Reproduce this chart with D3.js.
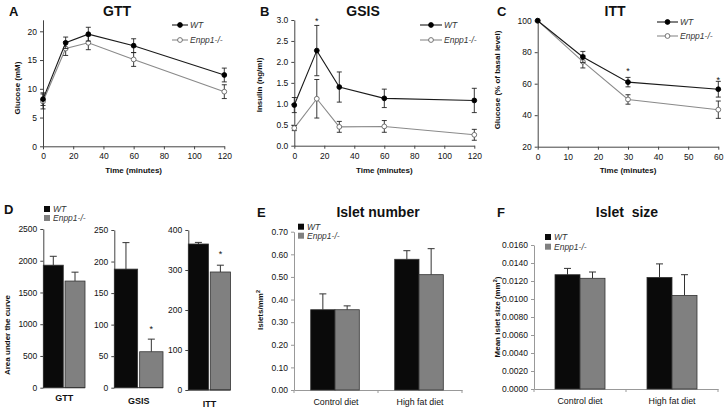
<!DOCTYPE html>
<html><head><meta charset="utf-8">
<script src="https://cdn.jsdelivr.net/npm/d3@7"></script>
<style>
body{margin:0;background:#fff;}
svg{font-family:"Liberation Sans",Arial,sans-serif;}
text{white-space:pre;}
</style></head>
<body>
<svg id="c" width="728" height="410"></svg>
<script>
// ---------- data ----------
const seriesNames = ["WT", "Enpp1-/-"];
const gttTimes = [0, 15, 30, 60, 120];
const gttWT = [8.2, 18.0, 19.5, 17.5, 12.4];
const gttWTErr = [1.1, 1.0, 1.2, 1.2, 1.2];
const gttKO = [7.8, 17.0, 18.0, 15.1, 9.5];
const gttKOErr = [1.3, 1.2, 1.2, 1.2, 1.2];

const gsisTimes = [0, 15, 30, 60, 120];
const gsisWT = [0.97, 2.27, 1.40, 1.13, 1.08];
const gsisWTErr = [0.18, 0.60, 0.36, 0.22, 0.29];
const gsisKO = [0.42, 1.12, 0.45, 0.46, 0.26];
const gsisKOErr = [0.06, 0.46, 0.13, 0.14, 0.13];

const ittTimes = [0, 15, 30, 60];
const ittWT = [100, 77, 61, 56.5];
const ittWTErr = [0, 3.5, 3, 5];
const ittKO = [100, 74, 50, 43.5];
const ittKOErr = [0, 4, 3, 5.5];

const aucTests = ["GTT", "GSIS", "ITT"];
const aucWT = [1930, 188, 365];
const aucWTErr = [140, 42, 4];
const aucKO = [1680, 57, 295];
const aucKOErr = [140, 20, 17];

const diets = ["Control diet", "High fat diet"];
const isletNumWT = [0.355, 0.578];
const isletNumWTErr = [0.07, 0.038];
const isletNumKO = [0.355, 0.51];
const isletNumKOErr = [0.017, 0.115];

const isletSizeWT = [0.0127, 0.0124];
const isletSizeWTErr = [0.0007, 0.0015];
const isletSizeKO = [0.0123, 0.0104];
const isletSizeKOErr = [0.0007, 0.0023];

// ---------- style ----------
const svg = d3.select("#c");
const WTline = "#1a1a1a", KOline = "#8a8a8a";
const WTbar = "#0a0a0a", KObar = "#808080";
const axisCol = "#444";

function styleAxis(g, col) {
  g.selectAll("path,line").attr("stroke", col || axisCol);
  g.selectAll("text").attr("fill", "#111").style("font-size", "8.5px")
    .style("font-family", "'Liberation Sans',Arial,sans-serif");
}
function text(x, y, s, o) {
  o = o || {};
  const t = svg.append("text").attr("x", x).attr("y", y).text(s)
    .attr("text-anchor", o.anchor || "middle")
    .style("font-size", (o.size || 9) + "px")
    .style("font-weight", o.bold ? "bold" : "normal")
    .style("font-style", o.italic ? "italic" : "normal")
    .attr("fill", o.fill || "#111");
  if (o.rotate) t.attr("transform", `rotate(-90,${x},${y})`);
  return t;
}

// ---------- line panels ----------
function linePanel(cfg) {
  const x = d3.scaleLinear().domain(cfg.xDomain).range(cfg.xRange);
  const y = d3.scaleLinear().domain(cfg.yDomain).range(cfg.yRange);
  const gx = svg.append("g").attr("transform", `translate(0,${cfg.yRange[0]})`)
    .call(d3.axisBottom(x).tickValues(cfg.xTicks).tickSize(3).tickPadding(4).tickSizeOuter(0));
  styleAxis(gx);
  const gy = svg.append("g").attr("transform", `translate(${cfg.xRange[0]},0)`)
    .call(d3.axisLeft(y).tickValues(cfg.yTicks).tickFormat(cfg.yFmt || d3.format("d")).tickSize(3).tickPadding(3).tickSizeOuter(0));
  styleAxis(gy);

  const series = [
    {v: cfg.ko, e: cfg.koErr, col: KOline, fill: "#fff"},
    {v: cfg.wt, e: cfg.wtErr, col: WTline, fill: "#000"}
  ];
  series.forEach(s => {
    const pts = cfg.times.map((t, i) => ({t, v: s.v[i], e: s.e[i]}));
    svg.append("path").datum(pts)
      .attr("d", d3.line().x(d => x(d.t)).y(d => y(d.v)))
      .attr("fill", "none").attr("stroke", s.col).attr("stroke-width", 1.1);
    const eb = svg.append("g");
    pts.filter(d => d.e > 0).forEach(d => {
      eb.append("line").attr("x1", x(d.t)).attr("x2", x(d.t))
        .attr("y1", y(d.v - d.e)).attr("y2", y(d.v + d.e)).attr("stroke", "#222").attr("stroke-width", 0.9);
      [d.v - d.e, d.v + d.e].forEach(vv => eb.append("line")
        .attr("x1", x(d.t) - 2.5).attr("x2", x(d.t) + 2.5)
        .attr("y1", y(vv)).attr("y2", y(vv)).attr("stroke", "#222").attr("stroke-width", 0.9));
    });
    svg.append("g").selectAll("circle").data(pts).join("circle")
      .attr("cx", d => x(d.t)).attr("cy", d => y(d.v)).attr("r", 2.4)
      .attr("fill", s.fill).attr("stroke", s.col === KOline ? "#666" : "#000").attr("stroke-width", 0.9);
  });
  (cfg.stars || []).forEach(st => text(x(st.t), st.y, "*", {size: 9}));

  // legend
  const L = cfg.legend;
  [[seriesNames[0], WTline, "#000", L.y1], [seriesNames[1], KOline, "#fff", L.y2]].forEach(([n, c, f, yy]) => {
    svg.append("line").attr("x1", L.x1).attr("x2", L.x2).attr("y1", yy).attr("y2", yy).attr("stroke", c).attr("stroke-width", 1.1);
    svg.append("circle").attr("cx", (L.x1 + L.x2) / 2).attr("cy", yy).attr("r", 2.4)
      .attr("fill", f).attr("stroke", c === KOline ? "#666" : "#000").attr("stroke-width", 0.9);
    text(L.x2 + 2, yy + 3, n, {anchor: "start", italic: true, size: 8.5, fill: "#333"});
  });
  text(cfg.titleX, 16, cfg.title, {bold: true, size: 14});
  text(cfg.letterX, 16, cfg.letter, {bold: true, size: 13, anchor: "start"});
  text((cfg.xRange[0] + cfg.xRange[1]) / 2, 173, "Time (minutes)", {bold: true, size: 8});
  text(cfg.ylabX, cfg.ylabY, cfg.ylab, {bold: true, size: 8, rotate: true});
}

linePanel({
  times: gttTimes, wt: gttWT, wtErr: gttWTErr, ko: gttKO, koErr: gttKOErr,
  xDomain: [0, 120], xRange: [43, 224.3], xTicks: d3.range(0, 121, 20),
  yDomain: [0, 22], yRange: [146.3, 19.8], yTicks: [0, 5, 10, 15, 20],
  legend: {x1: 172, x2: 188, y1: 25, y2: 40},
  title: "GTT", titleX: 117, letter: "A", letterX: 9,
  ylab: "Glucose (mM)", ylabX: 20, ylabY: 88
});
linePanel({
  times: gsisTimes, wt: gsisWT, wtErr: gsisWTErr, ko: gsisKO, koErr: gsisKOErr,
  xDomain: [0, 120], xRange: [294.3, 474.3], xTicks: d3.range(0, 121, 20),
  yDomain: [0, 3.0], yRange: [145.7, 20], yTicks: d3.range(0, 3.01, 0.5), yFmt: d3.format(".1f"),
  legend: {x1: 420, x2: 442, y1: 25, y2: 40},
  stars: [{t: 15, y: 24}],
  title: "GSIS", titleX: 363, letter: "B", letterX: 260,
  ylab: "Insulin (ng/ml)", ylabX: 262, ylabY: 85
});
linePanel({
  times: ittTimes, wt: ittWT, wtErr: ittWTErr, ko: ittKO, koErr: ittKOErr,
  xDomain: [0, 60], xRange: [537.7, 718.3], xTicks: d3.range(0, 61, 10),
  yDomain: [20, 100], yRange: [146.7, 20.7], yTicks: [20, 40, 60, 80, 100],
  legend: {x1: 657, x2: 678, y1: 22, y2: 36},
  stars: [{t: 30, y: 74}, {t: 60, y: 83}],
  title: "ITT", titleX: 615, letter: "C", letterX: 497,
  ylab: "Glucose (% of basal level)", ylabX: 500, ylabY: 80
});

// ---------- bar helpers ----------
function bar(x0, w, y, v, e, fill) {
  svg.append("line").attr("x1", x0 + w / 2).attr("x2", x0 + w / 2)
    .attr("y1", y(v)).attr("y2", y(v + e)).attr("stroke", "#333").attr("stroke-width", 1);
  svg.append("line").attr("x1", x0 + w / 2 - 3.5).attr("x2", x0 + w / 2 + 3.5)
    .attr("y1", y(v + e)).attr("y2", y(v + e)).attr("stroke", "#333").attr("stroke-width", 1);
  svg.append("rect").attr("x", x0).attr("y", y(v)).attr("width", w).attr("height", y(y.domain()[0]) - y(v))
    .attr("fill", fill).attr("stroke", "#333").attr("stroke-width", 0.8);
}
function squareLegend(x, y1, y2, size) {
  [[seriesNames[0], WTbar, y1], [seriesNames[1], KObar, y2]].forEach(([n, c, yy]) => {
    svg.append("rect").attr("x", x).attr("y", yy - 3).attr("width", 6).attr("height", 6).attr("fill", c);
    text(x + 9, yy + 3, n, {anchor: "start", italic: true, size: size || 8.5, fill: "#333"});
  });
}

// ---------- panel D ----------
const aucCfg = [
  {yMax: 2500, step: 500, y0: 387.7, yTop: 229, xr: [43.3, 85]},
  {yMax: 250, step: 50, y0: 387.7, yTop: 230, xr: [114.3, 163]},
  {yMax: 400, step: 100, y0: 390, yTop: 230, xr: [188.3, 230.5]}
];
const aucLabelY = [401, 404, 407];
const aucStars = [null, 332, 257];
aucTests.forEach((t, i) => {
  const c = aucCfg[i];
  const y = d3.scaleLinear().domain([0, c.yMax]).range([c.y0, c.yTop]);
  const xb = d3.scaleBand().domain(seriesNames).range(c.xr).paddingInner(0.08).paddingOuter(0);
  const gy = svg.append("g").attr("transform", `translate(${c.xr[0]},0)`)
    .call(d3.axisLeft(y).tickValues(d3.range(0, c.yMax + 1, c.step)).tickFormat(d3.format("d")).tickSize(3).tickPadding(3).tickSizeOuter(0));
  styleAxis(gy);
  bar(xb(seriesNames[0]), xb.bandwidth(), y, aucWT[i], aucWTErr[i], WTbar);
  bar(xb(seriesNames[1]), xb.bandwidth(), y, aucKO[i], aucKOErr[i], KObar);
  svg.append("line").attr("x1", c.xr[0]).attr("x2", c.xr[1]).attr("y1", c.y0).attr("y2", c.y0).attr("stroke", "#333");
  if (aucStars[i]) text(xb(seriesNames[1]) + xb.bandwidth() / 2, aucStars[i], "*", {size: 9});
  text((c.xr[0] + c.xr[1]) / 2, aucLabelY[i], t, {bold: true, size: 9});
});
squareLegend(44, 209, 218, 8.5);
text(4, 214, "D", {bold: true, size: 13, anchor: "start"});
text(10, 335, "Area under the curve", {bold: true, size: 8, rotate: true});

// ---------- grouped bar panels E, F ----------
function groupPanel(cfg) {
  const y = d3.scaleLinear().domain([0, cfg.yMax]).range([cfg.y0, cfg.yTop]);
  const xg = d3.scaleBand().domain(diets).range(cfg.xr).padding(0);
  const gy = svg.append("g").attr("transform", `translate(${cfg.xr[0]},0)`)
    .call(d3.axisLeft(y).tickValues(d3.range(0, cfg.yMax + cfg.step / 2, cfg.step)).tickFormat(d3.format(cfg.fmt)).tickSize(3).tickPadding(3).tickSizeOuter(0));
  styleAxis(gy, "#999");
  const gx = svg.append("g").attr("transform", `translate(0,${cfg.y0})`)
    .call(d3.axisBottom(xg).tickSize(0).tickPadding(9).tickSizeOuter(0));
  styleAxis(gx, "#999");
  gx.selectAll("text").style("font-size", "8.8px");
  [cfg.xr[0], (cfg.xr[0] + cfg.xr[1]) / 2, cfg.xr[1]].forEach(xx =>
    svg.append("line").attr("x1", xx).attr("x2", xx).attr("y1", cfg.y0).attr("y2", cfg.y0 + 3).attr("stroke", "#999"));
  diets.forEach((d, i) => {
    const cx = xg(d) + xg.bandwidth() / 2 + cfg.shift;
    const xs = d3.scaleBand().domain(seriesNames).range([cx - cfg.bw, cx + cfg.bw]).padding(0);
    bar(xs(seriesNames[0]), xs.bandwidth(), y, cfg.wt[i], cfg.wtErr[i], WTbar);
    bar(xs(seriesNames[1]), xs.bandwidth(), y, cfg.ko[i], cfg.koErr[i], KObar);
  });
  text(cfg.titleX, 217, cfg.title, {bold: true, size: 14});
  text(cfg.letterX, 217, cfg.letter, {bold: true, size: 13, anchor: "start"});
  const yl = text(cfg.ylabX, cfg.ylabY, cfg.ylab, {bold: true, size: 8, rotate: true});
  yl.append("tspan").attr("baseline-shift", "super").style("font-size", "5.5px").text("2");
  if (cfg.ylabTail) yl.append("tspan").text(cfg.ylabTail);
  squareLegend(cfg.legX, cfg.legY1, cfg.legY2, 8.5);
}
groupPanel({
  wt: isletNumWT, wtErr: isletNumWTErr, ko: isletNumKO, koErr: isletNumKOErr,
  yMax: 0.70, step: 0.10, fmt: ".2f", y0: 390, yTop: 231.7, xr: [294, 462], bw: 24.3, shift: -1,
  title: "Islet number", titleX: 378, letter: "E", letterX: 257,
  ylab: "Islets/mm", ylabX: 263, ylabY: 310,
  legX: 298, legY1: 226.7, legY2: 235.7
});
groupPanel({
  wt: isletSizeWT, wtErr: isletSizeWTErr, ko: isletSizeKO, koErr: isletSizeKOErr,
  yMax: 0.016, step: 0.002, fmt: ".4f", y0: 389, yTop: 245, xr: [534, 718], bw: 25, shift: 0,
  title: "Islet  size", titleX: 627, letter: "F", letterX: 497,
  ylab: "Mean islet size (mm", ylabTail: ")", ylabX: 500, ylabY: 317,
  legX: 545, legY1: 237, legY2: 246.7
});
</script>
</body></html>
